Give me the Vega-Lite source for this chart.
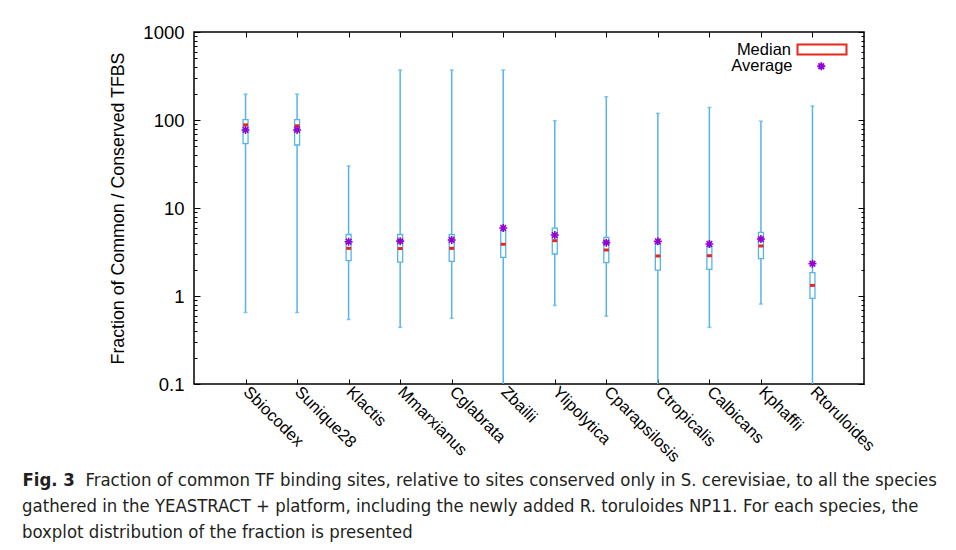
{
  "$schema": "https://vega.github.io/schema/vega-lite/v6.json",
  "width": 670,
  "height": 352,
  "padding": {"left": 22, "top": 23, "right": 5, "bottom": 5},
  "config": {
    "view": {"stroke": "#000000", "strokeWidth": 1.5},
    "font": "Liberation Sans",
    "axis": {"domain": false, "grid": false, "tickColor": "#000000", "tickWidth": 1, "labelColor": "#000000", "titleColor": "#000000"}
  },
  "title": {
    "text": [
      "gathered in the YEASTRACT + platform, including the newly added R. toruloides NP11. For each species, the",
      "boxplot distribution of the fraction is presented"
    ],
    "orient": "bottom",
    "anchor": "start",
    "frame": "group",
    "dx": -172,
    "offset": 9,
    "font": "Liberation Sans Narrow, DejaVu Sans Condensed, sans-serif",
    "fontSize": 18.4,
    "fontWeight": "normal",
    "color": "#231f20",
    "lineHeight": 25.5
  },
  "data": {
    "values": [
      {"species": "Sbiocodex", "lo": 0.65, "q1": 54, "med": 88, "q3": 101, "hi": 197, "avg": 77},
      {"species": "Sunique28", "lo": 0.65, "q1": 52, "med": 86, "q3": 101, "hi": 197, "avg": 77},
      {"species": "Klactis", "lo": 0.54, "q1": 2.52, "med": 3.48, "q3": 5.0, "hi": 30, "avg": 4.14},
      {"species": "Mmarxianus", "lo": 0.44, "q1": 2.42, "med": 3.46, "q3": 5.0, "hi": 370, "avg": 4.2},
      {"species": "Cglabrata", "lo": 0.56, "q1": 2.48, "med": 3.48, "q3": 5.0, "hi": 370, "avg": 4.33},
      {"species": "Zbailii", "lo": 0.09, "q1": 2.75, "med": 3.87, "q3": 5.5, "hi": 370, "avg": 5.93},
      {"species": "Ylipolytica", "lo": 0.78, "q1": 3.0, "med": 4.25, "q3": 5.9, "hi": 98, "avg": 4.93},
      {"species": "Cparapsilosis", "lo": 0.59, "q1": 2.39, "med": 3.33, "q3": 4.64, "hi": 184, "avg": 4.04},
      {"species": "Ctropicalis", "lo": 0.09, "q1": 1.97, "med": 2.85, "q3": 3.9, "hi": 119, "avg": 4.18},
      {"species": "Calbicans", "lo": 0.44, "q1": 2.01, "med": 2.87, "q3": 3.63, "hi": 139, "avg": 3.9},
      {"species": "Kphaffii", "lo": 0.81, "q1": 2.66, "med": 3.7, "q3": 5.29, "hi": 97, "avg": 4.44},
      {"species": "Rtoruloides", "lo": 0.09, "q1": 0.94, "med": 1.32, "q3": 1.84, "hi": 144, "avg": 2.33}
    ]
  },
  "resolve": {"axis": {"x": "independent", "y": "independent"}},
  "layer": [
    {
      "mark": {"type": "rule", "color": "#56b4e9", "strokeWidth": 1.5, "clip": true},
      "encoding": {
        "x": {
          "field": "species", "type": "nominal", "sort": null,
          "scale": {"type": "point", "padding": 1},
          "axis": {
            "orient": "bottom", "labelAngle": 45, "labelAlign": "left", "labelBaseline": "middle",
            "labelFontSize": 16.5, "labelPadding": 10, "tickSize": -5,
            "title": "Fig. 3", "titleX": -172, "titleY": 95, "titleAlign": "left", "titleBaseline": "middle", "titleAngle": 0,
            "titleFont": "Liberation Sans Narrow, DejaVu Sans Condensed, sans-serif", "titleFontSize": 18.4, "titleFontWeight": "bold", "titleColor": "#231f20"
          }
        },
        "y": {
          "field": "lo", "type": "quantitative",
          "scale": {"type": "log", "domain": [0.1, 1000]},
          "axis": {
            "orient": "left",
            "values": [0.1, 0.2, 0.3, 0.4, 0.5, 0.6, 0.7, 0.8, 0.9, 1, 2, 3, 4, 5, 6, 7, 8, 9, 10, 20, 30, 40, 50, 60, 70, 80, 90, 100, 200, 300, 400, 500, 600, 700, 800, 900, 1000],
            "labelExpr": "indexof(['0.1','1','10','100','1000'], datum.label) >= 0 ? datum.label : ''",
            "format": "~g",
            "labelFontSize": 18.5, "labelPadding": 16,
            "tickSize": {"condition": {"test": "abs(log(datum.value)/LN10 - round(log(datum.value)/LN10)) < 0.01", "value": -6}, "value": -3},
            "title": "Fraction of Common / Conserved TFBS",
            "titleFontSize": 17.8, "titleFontWeight": "normal", "titlePadding": 15
          }
        },
        "y2": {"field": "hi"}
      }
    },
    {
      "mark": {"type": "tick", "color": "#56b4e9", "size": 4, "thickness": 1.5, "clip": true},
      "encoding": {
        "x": {
          "field": "species", "type": "nominal", "sort": null,
          "axis": {
            "orient": "top", "labels": false, "tickSize": -5,
            "title": "Fraction of common TF binding sites, relative to sites conserved only in S. cerevisiae, to all the species",
            "titleX": -109, "titleY": 447, "titleAlign": "left", "titleBaseline": "middle", "titleAngle": 0,
            "titleFont": "Liberation Sans Narrow, DejaVu Sans Condensed, sans-serif", "titleFontSize": 18.4, "titleFontWeight": "normal", "titleColor": "#231f20"
          }
        },
        "y": {
          "field": "lo", "type": "quantitative",
          "axis": {
            "orient": "right", "labels": false, "title": null,
            "values": [0.1, 0.2, 0.3, 0.4, 0.5, 0.6, 0.7, 0.8, 0.9, 1, 2, 3, 4, 5, 6, 7, 8, 9, 10, 20, 30, 40, 50, 60, 70, 80, 90, 100, 200, 300, 400, 500, 600, 700, 800, 900, 1000],
            "tickSize": {"condition": {"test": "abs(log(datum.value)/LN10 - round(log(datum.value)/LN10)) < 0.01", "value": -6}, "value": -3}
          }
        }
      }
    },
    {
      "mark": {"type": "tick", "color": "#56b4e9", "size": 4, "thickness": 1.5},
      "encoding": {
        "x": {"field": "species", "type": "nominal", "sort": null, "axis": null},
        "y": {"field": "hi", "type": "quantitative", "axis": null}
      }
    },
    {
      "mark": {"type": "bar", "size": 5, "fill": "#ffffff", "stroke": "#56b4e9", "strokeWidth": 1.3},
      "encoding": {
        "x": {"field": "species", "type": "nominal", "sort": null, "axis": null},
        "y": {"field": "q1", "type": "quantitative", "axis": null},
        "y2": {"field": "q3"}
      }
    },
    {
      "mark": {"type": "point", "filled": true, "shape": "M-1,-0.6H1V0.6H-1Z", "size": 25, "opacity": 1, "color": "#e8261c"},
      "encoding": {
        "x": {"field": "species", "type": "nominal", "sort": null, "axis": null},
        "y": {"field": "med", "type": "quantitative", "axis": null}
      }
    },
    {
      "mark": {"type": "point", "filled": false, "shape": "M-1,0H1M0,-1V1M-0.7,-0.7L0.7,0.7M-0.7,0.7L0.7,-0.7", "size": 64, "strokeWidth": 1.6, "opacity": 1, "color": "#9400d3"},
      "encoding": {
        "x": {"field": "species", "type": "nominal", "sort": null, "axis": null},
        "y": {"field": "avg", "type": "quantitative", "axis": null}
      }
    },
    {
      "mark": {"type": "point", "filled": false, "opacity": 0, "strokeWidth": 2},
      "encoding": {
        "x": {"field": "species", "type": "nominal", "sort": null, "axis": null},
        "y": {"field": "med", "type": "quantitative", "axis": null},
        "stroke": {
          "datum": "Median",
          "scale": {"domain": ["Median"], "range": ["#e8261c"]},
          "legend": {
            "title": null, "orient": "none", "legendX": 602.5, "legendY": -8, "padding": 0,
            "labelFont": "Liberation Sans", "labelFontSize": 16.5, "labelColor": "#000000",
            "labelAlign": "right", "labelOffset": -56.5,
            "symbolType": "M-1,-0.2H1V0.2H-1Z", "symbolSize": 2400, "symbolStrokeWidth": 2,
            "symbolOpacity": 1, "symbolFillColor": "transparent"
          }
        }
      }
    },
    {
      "mark": {"type": "point", "filled": false, "opacity": 0, "strokeWidth": 1.8, "color": "#9400d3"},
      "encoding": {
        "x": {"field": "species", "type": "nominal", "sort": null, "axis": null},
        "y": {"field": "avg", "type": "quantitative", "axis": null},
        "shape": {
          "datum": "Average",
          "scale": {"domain": ["Average"], "range": ["M-1,0H1M0,-1V1M-0.7,-0.7L0.7,0.7M-0.7,0.7L0.7,-0.7"]},
          "legend": {
            "title": null, "orient": "none", "legendX": 619, "legendY": 26, "padding": 0,
            "labelFont": "Liberation Sans", "labelFontSize": 16.5, "labelColor": "#000000",
            "labelAlign": "right", "labelOffset": -37,
            "symbolSize": 64, "symbolStrokeWidth": 1.8, "symbolOpacity": 1,
            "symbolStrokeColor": "#9400d3", "symbolFillColor": "transparent"
          }
        }
      }
    }
  ]
}
